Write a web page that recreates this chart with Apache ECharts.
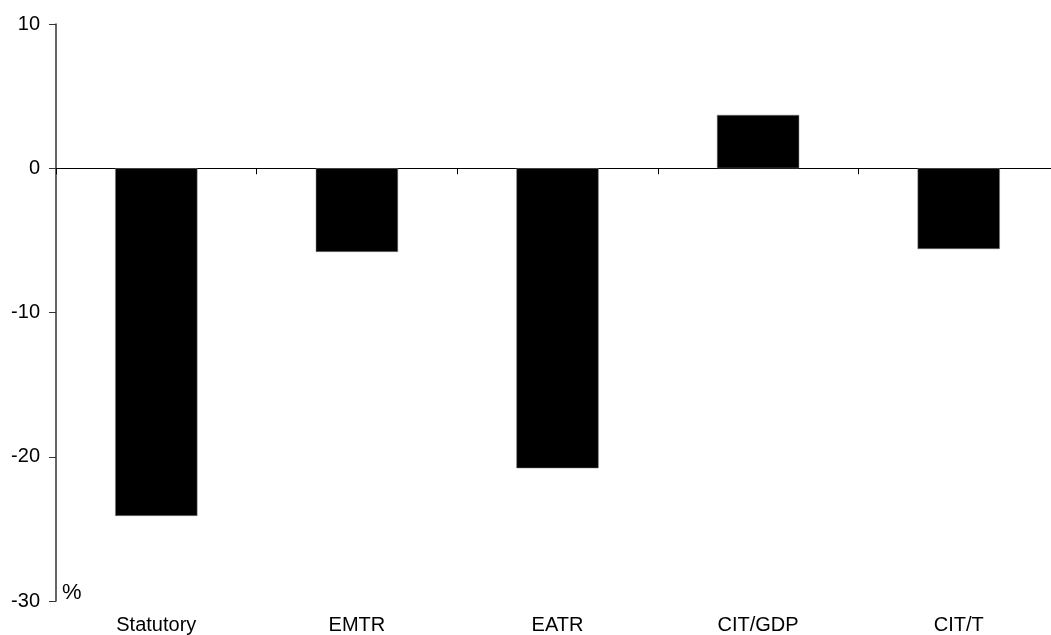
<!DOCTYPE html>
<html><head><meta charset="utf-8">
<script src="https://cdn.jsdelivr.net/npm/echarts@6/dist/echarts.min.js"></script>
<style>html,body{margin:0;padding:0;background:#fff}#c{width:1051px;height:635px}</style>
</head><body><div id="c"></div>
<script>
const categories = ['Statutory', 'EMTR', 'EATR', 'CIT/GDP', 'CIT/T'];
const values = [-24.1, -5.8, -20.8, 3.7, -5.6];
const yTicks = { min: -30, max: 10, interval: 10 };
const unitLabel = '%';

const chart = echarts.init(document.getElementById('c'), null, { renderer: 'canvas' });
const font = 'Arial, "Liberation Sans", sans-serif';
chart.setOption({
  animation: false,
  backgroundColor: '#fff',
  grid: { left: 56, top: 24, width: 1003, height: 577, containLabel: false, outerBoundsMode: 'none' },
  xAxis: [
    {
      type: 'category', data: categories, position: 'bottom',
      axisLine: { show: false, onZero: false }, axisTick: { show: false },
      axisLabel: { color: '#000', fontSize: 20, fontFamily: font, margin: 14 }
    },
    {
      type: 'category', data: categories, position: 'bottom',
      axisLine: { show: true, onZero: true, lineStyle: { color: '#000', width: 1 } },
      axisTick: { show: true, inside: false, length: 6, lineStyle: { color: '#000' } },
      axisLabel: { show: false }
    }
  ],
  yAxis: {
    type: 'value', min: yTicks.min, max: yTicks.max, interval: yTicks.interval,
    axisLine: { show: true, lineStyle: { color: '#333', width: 1.5 } },
    axisTick: { show: true, length: 7, lineStyle: { color: '#333' } },
    splitLine: { show: false },
    axisLabel: { color: '#000', fontSize: 20, fontFamily: font, margin: 16 }
  },
  graphic: [{
    type: 'text', left: 62, top: 582,
    style: { text: unitLabel, fontSize: 22, fontFamily: font, fill: '#000' }
  }],
  series: [{
    type: 'bar', data: values, xAxisIndex: 0, barWidth: '41%',
    itemStyle: { color: '#000', borderColor: '#808080', borderWidth: 0.5 }
  }]
});
</script></body></html>
